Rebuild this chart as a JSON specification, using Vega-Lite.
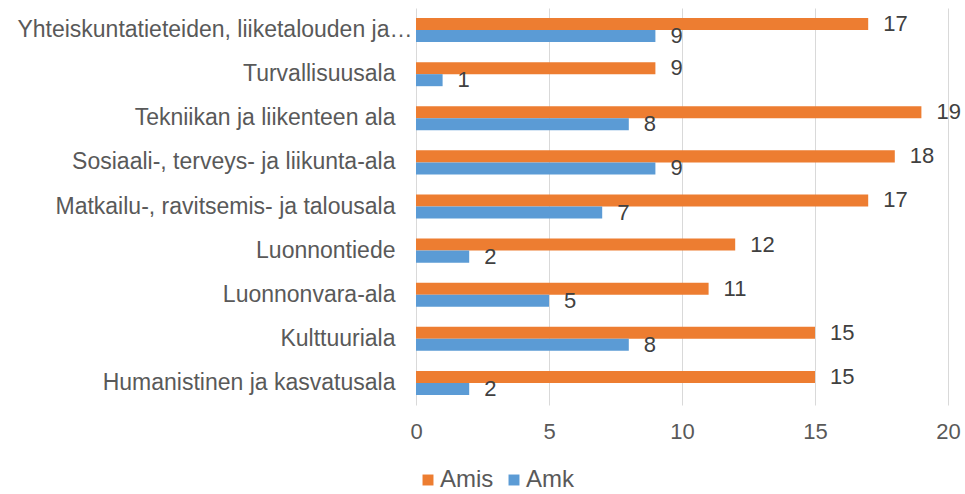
{
  "$schema": "https://vega.github.io/schema/vega-lite/v6.json",
  "autosize": {"type": "none"},
  "width": 532,
  "height": 397,
  "padding": {"left": 416, "top": 8, "right": 17, "bottom": 89},
  "background": "white",
  "config": {
    "view": {"stroke": null},
    "font": "Liberation Sans",
    "axis": {"labelFont": "Liberation Sans", "labelColor": "#595959", "labelFontSize": 23, "ticks": false, "domain": false},
    "legend": {"labelFont": "Liberation Sans", "labelColor": "#595959", "labelFontSize": 24}
  },
  "data": {
    "values": [
      {"ala": "Yhteiskuntatieteiden, liiketalouden ja…", "sarja": "Amis", "arvo": 17},
      {"ala": "Yhteiskuntatieteiden, liiketalouden ja…", "sarja": "Amk", "arvo": 9},
      {"ala": "Turvallisuusala", "sarja": "Amis", "arvo": 9},
      {"ala": "Turvallisuusala", "sarja": "Amk", "arvo": 1},
      {"ala": "Tekniikan ja liikenteen ala", "sarja": "Amis", "arvo": 19},
      {"ala": "Tekniikan ja liikenteen ala", "sarja": "Amk", "arvo": 8},
      {"ala": "Sosiaali-, terveys- ja liikunta-ala", "sarja": "Amis", "arvo": 18},
      {"ala": "Sosiaali-, terveys- ja liikunta-ala", "sarja": "Amk", "arvo": 9},
      {"ala": "Matkailu-, ravitsemis- ja talousala", "sarja": "Amis", "arvo": 17},
      {"ala": "Matkailu-, ravitsemis- ja talousala", "sarja": "Amk", "arvo": 7},
      {"ala": "Luonnontiede", "sarja": "Amis", "arvo": 12},
      {"ala": "Luonnontiede", "sarja": "Amk", "arvo": 2},
      {"ala": "Luonnonvara-ala", "sarja": "Amis", "arvo": 11},
      {"ala": "Luonnonvara-ala", "sarja": "Amk", "arvo": 5},
      {"ala": "Kulttuuriala", "sarja": "Amis", "arvo": 15},
      {"ala": "Kulttuuriala", "sarja": "Amk", "arvo": 8},
      {"ala": "Humanistinen ja kasvatusala", "sarja": "Amis", "arvo": 15},
      {"ala": "Humanistinen ja kasvatusala", "sarja": "Amk", "arvo": 2}
    ]
  },
  "encoding": {
    "y": {
      "field": "ala", "type": "nominal", "sort": null, "title": null,
      "scale": {"paddingInner": 0.4545, "paddingOuter": 0.227},
      "axis": {
        "labelPadding": {"condition": {"test": "indexof(datum.value, 'Yhteiskunta') === 0", "value": 4}, "value": 21},
        "labelLimit": 412, "grid": false
      }
    },
    "yOffset": {"field": "sarja", "type": "nominal", "sort": ["Amis", "Amk"]},
    "x": {
      "field": "arvo", "type": "quantitative", "title": null,
      "scale": {"domain": [0, 20], "nice": false},
      "axis": {"values": [0, 5, 10, 15, 20], "grid": true, "gridColor": "#d9d9d9", "gridWidth": 1, "labelPadding": 16, "labelFlush": false, "labelFontSize": 22}
    }
  },
  "layer": [
    {
      "mark": {"type": "bar"},
      "encoding": {
        "color": {
          "field": "sarja", "type": "nominal", "sort": ["Amis", "Amk"],
          "scale": {"domain": ["Amis", "Amk"], "range": ["#ED7D31", "#5B9BD5"]},
          "legend": {
            "title": null, "orient": "none", "direction": "horizontal",
            "legendX": 0, "legendY": 460,
            "symbolType": "square", "symbolSize": 120, "symbolStrokeWidth": 0,
            "labelOffset": 0, "columnPadding": 8
          }
        }
      }
    },
    {
      "mark": {"type": "text", "align": "left", "baseline": "middle", "dx": 15, "fontSize": 22, "color": "#404040", "font": "Liberation Sans"},
      "encoding": {"text": {"field": "arvo", "type": "quantitative"}}
    }
  ]
}
